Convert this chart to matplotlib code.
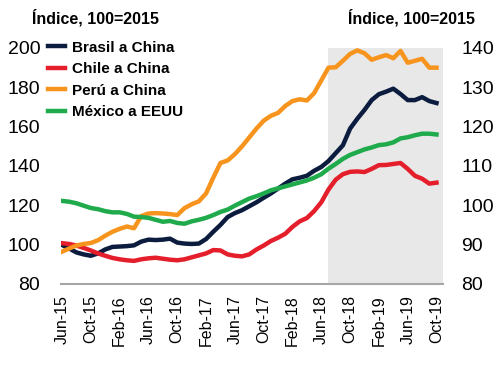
import numpy as np
import pandas as pd
import matplotlib
matplotlib.use("Agg")
import matplotlib.pyplot as plt

plt.rcParams["font.family"] = ["Liberation Sans", "DejaVu Sans"]

# ── Données (lecture du graphique, mensuel jun-15 → oct-19) ─────────────────
MESES = pd.date_range("2015-06-01", "2019-10-01", freq="MS")
TICK_LABELS = ["Jun-15", "Oct-15", "Feb-16", "Jun-16", "Oct-16", "Feb-17", "Jun-17",
               "Oct-17", "Feb-18", "Jun-18", "Oct-18", "Feb-19", "Jun-19", "Oct-19"]

# eje izquierdo
brasil = [99.8, 98.0, 96.0, 95.0, 94.3, 95.5, 97.5, 98.8, 99.0, 99.2,
          99.6, 101.5, 102.5, 102.3, 102.5, 103.0, 101.0, 100.5, 100.3, 100.5,
          102.8, 106.5, 110.0, 114.0, 116.0, 117.5, 119.5, 121.5, 123.8, 126.0,
          128.5, 131.0, 133.2, 134.0, 135.0, 137.5, 139.5, 142.5, 146.5, 150.5,
          159.0, 164.0, 168.5, 173.5, 176.5, 177.8, 179.3, 176.6, 173.5, 173.5,
          175.0, 173.0, 172.0]
chile = [100.7, 100.3, 99.5, 98.3, 97.0, 95.5, 94.3, 93.2, 92.5, 92.0,
         91.7, 92.5, 93.0, 93.3, 92.8, 92.3, 92.0, 92.5, 93.5, 94.5,
         95.5, 97.2, 97.0, 95.0, 94.3, 94.0, 95.0, 97.5, 99.5, 101.8,
         103.5, 105.5, 109.0, 111.8, 113.5, 117.0, 121.5, 128.0, 133.0, 135.8,
         137.0, 137.2, 136.9, 138.5, 140.4, 140.5, 141.0, 141.5, 138.5, 135.0,
         133.5, 131.0, 131.5]
peru = [96.4, 98.0, 99.5, 100.3, 100.8, 102.2, 104.5, 106.5, 108.0, 109.2,
        108.3, 114.5, 115.8, 116.0, 115.8, 115.5, 115.0, 118.5, 120.5, 122.0,
        126.0, 134.0, 141.5, 142.8, 146.0, 150.0, 154.5, 159.0, 163.0, 165.5,
        167.0, 170.5, 173.0, 173.9, 173.3, 177.0, 183.5, 190.0, 190.2, 193.5,
        197.0, 198.8, 197.3, 194.0, 195.3, 196.4, 194.8, 198.5, 192.5, 193.5,
        194.5, 190.0, 190.0]
# eje derecho
mexico = [101.1, 100.9, 100.5, 99.9, 99.3, 99.0, 98.5, 98.2, 98.2, 97.8,
          97.1, 97.0, 96.8, 96.3, 95.8, 96.0, 95.5, 95.3, 95.9, 96.3,
          96.8, 97.5, 98.3, 98.9, 99.9, 100.8, 101.7, 102.3, 103.0, 103.8,
          104.3, 104.8, 105.3, 105.8, 106.3, 107.0, 107.9, 109.3, 110.5, 111.8,
          112.8, 113.5, 114.2, 114.7, 115.3, 115.5, 116.0, 117.0, 117.3, 117.8,
          118.2, 118.2, 118.0]

SOMBRA_INICIO = pd.Timestamp("2018-07-01")

C_BRASIL = "#0B1C3F"
C_CHILE  = "#E51E2B"
C_PERU   = "#F7941D"
C_MEXICO = "#1FAA4B"

# ── Figura ───────────────────────────────────────────────────────────────────
x = np.arange(len(MESES))
x_sombra = MESES.get_loc(SOMBRA_INICIO) - 0.1

fig = plt.figure(figsize=(5, 3.75), dpi=100)
ax = fig.add_axes([0.122, 0.243, 0.764, 0.629])
ax2 = ax.twinx()

xmax = x[-1] + 0.9
ax.axvspan(x_sombra, xmax, color="#E8E8E8", lw=0, zorder=0)

l1, = ax.plot(x, brasil, color=C_BRASIL, lw=3.2, label="Brasil a China", zorder=3)
l2, = ax.plot(x, chile, color=C_CHILE, lw=3.2, label="Chile a China", zorder=3)
l3, = ax.plot(x, peru, color=C_PERU, lw=3.2, label="Perú a China", zorder=3)
l4, = ax2.plot(x, mexico, color=C_MEXICO, lw=3.2, label="México a EEUU", zorder=3)

ax.set_xlim(-0.14, xmax)
ax.set_ylim(80, 200)
ax.set_yticks(range(80, 201, 20))
ax2.set_ylim(80, 140)
ax2.set_yticks(range(80, 141, 10))

ax.set_xticks(x[::4])
ax.set_xticklabels(TICK_LABELS, rotation=90, fontsize=11.5)

for a in (ax, ax2):
    for s in ("top", "left", "right"):
        a.spines[s].set_visible(False)
    a.spines["bottom"].set_color("#A6A6A6")
    a.spines["bottom"].set_linewidth(1.5)
ax2.spines["bottom"].set_visible(False)

ax.tick_params(axis="x", length=0, pad=8)
ax.tick_params(axis="y", length=0, pad=15, labelsize=14)
ax2.tick_params(axis="y", length=0, pad=13, labelsize=14)

fig.text(0.191, 0.952, "Índice, 100=2015", ha="center", va="center",
         fontsize=11.5, fontweight="bold")
fig.text(0.823, 0.952, "Índice, 100=2015", ha="center", va="center",
         fontsize=11.5, fontweight="bold")

leg = fig.legend(handles=[l1, l2, l3, l4], loc="upper left",
                 bbox_to_anchor=(0.096, 0.892), frameon=False,
                 prop={"size": 11, "weight": "bold"}, handlelength=1.1,
                 handletextpad=0.45, labelspacing=0.5, borderpad=0,
                 borderaxespad=0)

fig.savefig("out.png", dpi=100)
plt.close(fig)
